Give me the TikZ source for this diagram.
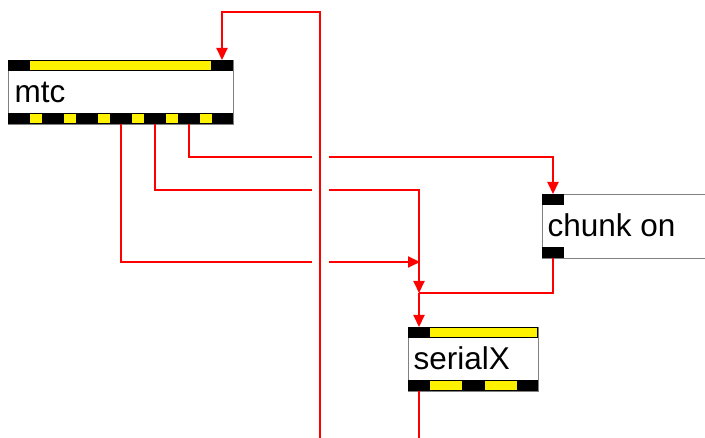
\documentclass[tikz,border=0pt]{standalone}
\usepackage{fontspec}
\setmainfont{Liberation Sans}
\usetikzlibrary{arrows.meta}
\begin{document}
\begin{tikzpicture}[x=1pt,y=-1pt,line join=miter,font=\fontsize{31.5}{32}\selectfont,
	obj/.style={draw=gray,line width=1pt,fill=white,anchor=north west,inner sep=0pt,minimum height=64pt},
	wire/.style={red,line width=2pt},
	arr/.style={-{Triangle[length=12pt,width=11pt]}}]
	\clip (0,0) rectangle (705,438);
	% boxes
	\node[obj,minimum width=225pt] (mtc) at (8,60) {};
	\node[obj,minimum width=200pt] (chunk) at (542,194) {};
	\node[obj,minimum width=130pt] (serial) at (408,327) {};
	% inlets and outlets
	\fill (8,60) rectangle (233,71); \fill[yellow] (30,61) rectangle (211,70);
	\fill (8,113) rectangle (233,124);
	\foreach \i in {0,...,5}{\fill[yellow] (30+34*\i,114) rectangle ++(12,9);}
	\fill (542,194) rectangle (564,205); \fill (542,247) rectangle (564,258);
	\fill (408,327) rectangle (538,338); \fill[yellow] (430,328) rectangle (537,337);
	\fill (408,380) rectangle (538,391);
	\foreach \x in {430,485}{\fill[yellow] (\x,381) rectangle ++(32,9);}
	\node[anchor=base west] (mtc-t) at (11,103) {mtc};
	\node[anchor=base west] (chunk-t) at (544,237) {chunk on};
	\node[anchor=base west] (serial-t) at (410,370) {serialX};
	\foreach \i in {0,...,6}{\coordinate (mtc-o\i) at (19+34*\i,124);}
	\coordinate (mtc-i) at (222,60);
	\coordinate (chunk-i) at (553,194); \coordinate (chunk-o) at (553,258);
	\coordinate (serial-i) at (419,327); \coordinate (serial-o) at (419,391);
	\coordinate (tap) at (420,262); \coordinate (join) at (419,293);
	\coordinate (in) at (320,438); \coordinate (out) at (419,438);
	% connections
	\draw[wire,arr] (mtc-o5) -- ++(0,33) -| (chunk-i);
	\draw[wire,arr] (mtc-o4) -- ++(0,66) -| (join);
	\draw[wire,arr] (mtc-o3) |- (tap);
	\draw[wire] (chunk-o) |- (join);
	\draw[wire,arr] (join) -- (serial-i);
	\draw[wire] (serial-o) -- (out);
	\draw[white,line width=17pt] (320,24) -- (in);
	\draw[wire,arr] (in) -- (320,12) -| (mtc-i);
\end{tikzpicture}
\end{document}
